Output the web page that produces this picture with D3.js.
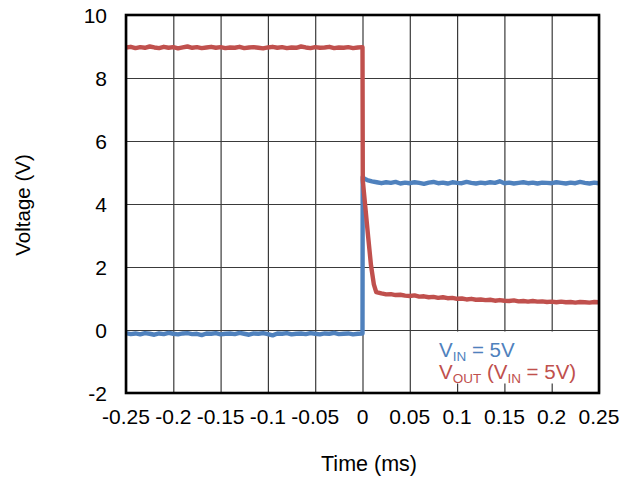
<!DOCTYPE html>
<html>
<head>
<meta charset="utf-8">
<script src="https://cdn.jsdelivr.net/npm/d3@7"></script>
<style>
  body { margin: 0; background: #fff; }
  svg text { font-family: "Liberation Sans", Arial, sans-serif; }
</style>
</head>
<body>
<svg id="chart" width="632" height="480"></svg>
<script>
// tick labels
var xTicks = [-0.25, -0.2, -0.15, -0.1, -0.05, 0, 0.05, 0.1, 0.15, 0.2, 0.25];
var yTicks = [-2, 0, 2, 4, 6, 8, 10];

// sampling step of the steady parts (ms)
var step = 0.005;

// V_IN, t = -0.25 .. 0
var vinPre = [-0.10,-0.13,-0.11,-0.14,-0.10,-0.12,-0.15,-0.11,-0.13,-0.09,-0.12,-0.14,-0.11,-0.10,-0.13,-0.12,-0.16,
  -0.11,-0.12,-0.10,-0.14,-0.12,-0.11,-0.13,-0.09,-0.12,-0.15,-0.11,-0.12,-0.10,-0.13,-0.17,-0.11,-0.12,-0.10,-0.14,
  -0.12,-0.11,-0.13,-0.10,-0.12,-0.14,-0.11,-0.12,-0.09,-0.13,-0.12,-0.11,-0.14,-0.12,-0.11];
// V_IN step at t = 0
var vinStep = [[0.0002, 4.86], [0.002, 4.80]];
// V_IN, t = 0.005 .. 0.25
var vinPost = [4.76,4.72,4.69,4.66,4.69,4.67,4.70,4.65,4.68,4.66,4.69,4.67,4.64,4.68,4.70,4.66,4.68,4.65,4.69,4.67,
  4.66,4.70,4.67,4.65,4.68,4.66,4.69,4.67,4.72,4.66,4.68,4.65,4.67,4.69,4.66,4.68,4.65,4.68,4.67,4.66,4.69,4.67,
  4.65,4.68,4.66,4.70,4.67,4.65,4.68,4.66];

// V_OUT, t = -0.25 .. 0
var voutPre = [8.97,8.99,8.95,8.98,8.96,9.00,8.97,8.95,8.99,8.96,8.98,8.94,8.97,9.00,8.96,8.98,8.95,8.97,8.99,8.96,
  8.98,8.95,8.97,8.96,8.99,8.95,8.97,8.98,8.96,8.94,8.97,8.99,8.96,8.98,8.95,8.97,8.96,9.00,8.97,8.95,8.98,8.96,
  8.97,8.99,8.95,8.97,8.96,8.98,8.95,8.97,8.98];
// V_OUT drop after t = 0
var voutStep = [[0.0003, 4.75], [0.003, 3.9], [0.006, 2.95], [0.009, 2.05], [0.012, 1.45], [0.0145, 1.2]];
// V_OUT, t = 0.02 .. 0.25
var voutPost = [1.16,1.13,1.14,1.11,1.12,1.09,1.08,1.10,1.06,1.07,1.04,1.05,1.02,1.04,1.01,1.02,0.99,1.00,0.97,
  0.99,0.96,0.97,0.95,0.96,0.93,0.95,0.93,0.92,0.94,0.91,0.92,0.90,0.92,0.90,0.91,0.89,0.90,0.88,0.90,0.88,0.89,
  0.87,0.89,0.88,0.87,0.89,0.88];

function series(pre, mid, post, postStart) {
  var pts = pre.map(function(v, i) { return [-0.25 + i * step, v]; });
  pts = pts.concat(mid);
  post.forEach(function(v, i) { pts.push([postStart + i * step, v]); });
  return pts;
}
var vin = series(vinPre, vinStep, vinPost, 0.005);
var vout = series(voutPre, voutStep, voutPost, 0.02);

var svg = d3.select("#chart"),
  margin = {top: 15, right: 33, bottom: 87, left: 126},
  width = +svg.attr("width") - margin.left - margin.right,
  height = +svg.attr("height") - margin.top - margin.bottom,
  g = svg.append("g").attr("transform", "translate(" + margin.left + "," + margin.top + ")");

var x = d3.scaleLinear().domain([-0.25, 0.25]).range([0, width]);
var y = d3.scaleLinear().domain([-2, 10]).range([height, 0]);

// grid
g.append("g")
  .call(d3.axisBottom(x).tickValues(xTicks).tickSize(-height).tickFormat(""))
  .attr("transform", "translate(0," + height + ")")
  .call(function(a) { a.select(".domain").remove(); })
  .selectAll("line").attr("stroke", "#3a3a3a").attr("stroke-width", 1.2);
g.append("g")
  .call(d3.axisLeft(y).tickValues(yTicks).tickSize(-width).tickFormat(""))
  .call(function(a) { a.select(".domain").remove(); })
  .selectAll("line").attr("stroke", "#3a3a3a").attr("stroke-width", 1.2);

// legend background
g.append("rect")
  .attr("x", 286).attr("y", y(0) + 1.5)
  .attr("width", width - 287).attr("height", 52)
  .attr("fill", "#fff");

var line = d3.line()
  .x(function(d) { return x(d[0]); })
  .y(function(d) { return y(d[1]); });

g.append("path").datum(vin)
  .attr("fill", "none").attr("stroke", "#4F81BD")
  .attr("stroke-width", 4.4).attr("stroke-linejoin", "round")
  .attr("d", line);
g.append("path").datum(vout)
  .attr("fill", "none").attr("stroke", "#C0504D")
  .attr("stroke-width", 4.4).attr("stroke-linejoin", "round")
  .attr("d", line);

// border
g.append("rect")
  .attr("width", width).attr("height", height)
  .attr("fill", "none").attr("stroke", "#000").attr("stroke-width", 2.6);

// tick labels
g.append("g").selectAll("text").data(xTicks).enter().append("text")
  .attr("x", function(d) { return x(d); })
  .attr("y", height + 31)
  .attr("text-anchor", "middle")
  .attr("font-size", 21)
  .text(function(d) { return d; });
g.append("g").selectAll("text").data(yTicks).enter().append("text")
  .attr("x", -19)
  .attr("y", function(d) { return y(d); })
  .attr("dy", "0.36em")
  .attr("text-anchor", "end")
  .attr("font-size", 21)
  .text(function(d) { return d; });

// axis titles
svg.append("text")
  .attr("x", 369).attr("y", 471)
  .attr("text-anchor", "middle").attr("font-size", 21.5)
  .text("Time (ms)");
svg.append("text")
  .attr("transform", "translate(30,205) rotate(-90)")
  .attr("text-anchor", "middle").attr("font-size", 20.5)
  .text("Voltage (V)");

// legend
var l1 = svg.append("text").attr("x", 439).attr("y", 357).attr("font-size", 20.5).attr("fill", "#4F81BD");
l1.append("tspan").text("V");
l1.append("tspan").attr("font-size", 13.5).attr("dy", 4).text("IN");
l1.append("tspan").attr("dy", -4).text(" = 5V");

var l2 = svg.append("text").attr("x", 439).attr("y", 379).attr("font-size", 20.5).attr("fill", "#C0504D");
l2.append("tspan").text("V");
l2.append("tspan").attr("font-size", 13.5).attr("dy", 4).text("OUT");
l2.append("tspan").attr("dy", -4).text(" (V");
l2.append("tspan").attr("font-size", 13.5).attr("dy", 4).text("IN");
l2.append("tspan").attr("dy", -4).text(" = 5V)");
</script>
</body>
</html>
